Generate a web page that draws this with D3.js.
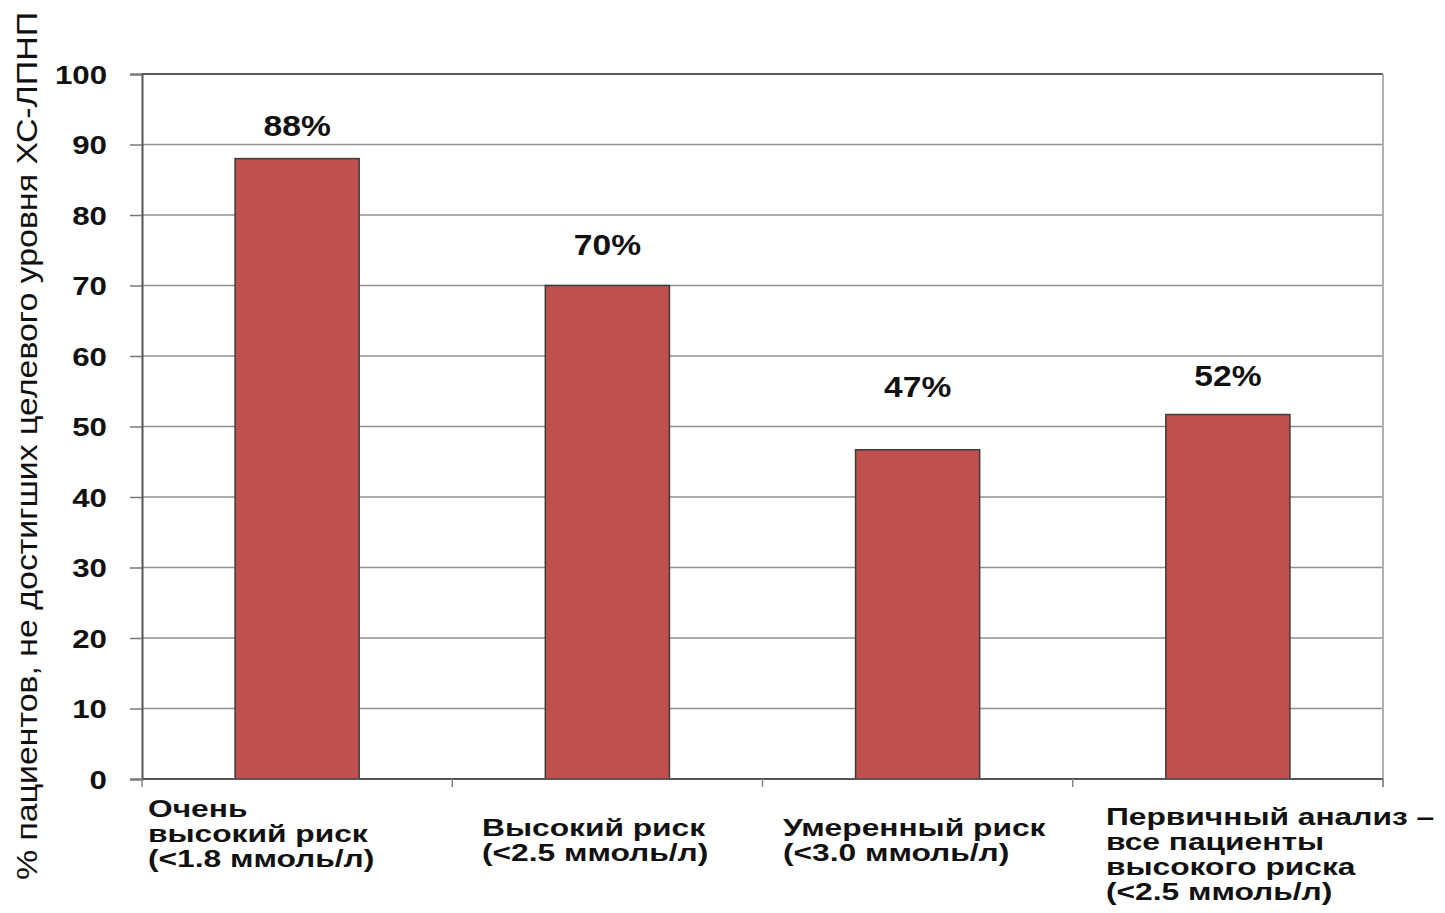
<!DOCTYPE html>
<html><head><meta charset="utf-8">
<script src="https://cdn.jsdelivr.net/npm/d3@7"></script>
<style>body{margin:0;background:#fff}svg{display:block}</style>
</head><body>
<script>
const categories = [
  ["Очень", "высокий риск", "(<1.8 ммоль/л)"],
  ["Высокий риск", "(<2.5 ммоль/л)"],
  ["Умеренный риск", "(<3.0 ммоль/л)"],
  ["Первичный анализ –", "все пациенты", "высокого риска", "(<2.5 ммоль/л)"]
];
const values = [88, 70, 46.7, 51.7];
const valueLabels = ["88%", "70%", "47%", "52%"];
const yTicks = [0, 10, 20, 30, 40, 50, 60, 70, 80, 90, 100];
const yTitle = "% пациентов, не достигших целевого уровня ХС-ЛПНП";

// layout (not data)
const W = 1445, H = 913;
const plot = {left: 142, right: 1383, top: 74, bottom: 779};
const catLabelLeft = [148, 482, 783, 1106];
const catLabelFirstBaseline = [817, 836, 836, 825];
const valueLabelGap = [23, 31, 53, 29];
const lineH = 25;

const svg = d3.select("body").append("svg").attr("width", W).attr("height", H);
const font = "'Liberation Sans', Arial, sans-serif";

const x = d3.scaleBand().domain(d3.range(categories.length)).range([plot.left, plot.right]).padding(0);
const y = d3.scaleLinear().domain([0, 100]).range([plot.bottom, plot.top]);

// gridlines
svg.append("g").selectAll("line").data(yTicks.filter(t => t > 0)).join("line")
  .attr("x1", plot.left).attr("x2", plot.right)
  .attr("y1", d => y(d)).attr("y2", d => y(d))
  .attr("stroke", d => d === 100 ? "#5a5a5a" : "#909090")
  .attr("stroke-width", d => d === 100 ? 2 : 1.4);
// right border
svg.append("line").attr("x1", plot.right).attr("x2", plot.right).attr("y1", plot.top).attr("y2", plot.bottom + 8)
  .attr("stroke", "#b0b0b0").attr("stroke-width", 2);

// bars
const bw = x.bandwidth() * 0.4;
svg.append("g").selectAll("rect").data(values).join("rect")
  .attr("x", (d, i) => x(i) + (x.bandwidth() - bw) / 2)
  .attr("width", bw)
  .attr("y", d => y(d))
  .attr("height", d => y(0) - y(d))
  .attr("fill", "#C0504D").attr("stroke", "#3c3c3c").attr("stroke-width", 1.5);

// y axis
const yAxis = d3.axisLeft(y).tickValues(yTicks).tickSize(12).tickPadding(0).tickFormat(d3.format("d"));
const gy = svg.append("g").attr("transform", `translate(${plot.left},0)`).call(yAxis);
gy.select(".domain").attr("stroke", "#555").attr("stroke-width", 2);
gy.selectAll(".tick line").attr("stroke", "#777").attr("stroke-width", 1.5);
gy.selectAll(".tick text").remove();
gy.selectAll(".tick").append("g").attr("transform", "translate(-35,0) scale(1.25,1)")
  .append("text").attr("text-anchor", "end").attr("dy", "0.36em")
  .attr("font-family", font).attr("font-weight", "bold").attr("font-size", 25).attr("fill", "#111")
  .text(d => d);

// x axis
svg.append("line").attr("x1", plot.left).attr("x2", plot.right).attr("y1", plot.bottom).attr("y2", plot.bottom)
  .attr("stroke", "#555").attr("stroke-width", 2);
const bounds = d3.range(categories.length + 1).map(i => plot.left + i * x.step());
svg.append("g").selectAll("line").data(bounds).join("line")
  .attr("x1", d => d).attr("x2", d => d).attr("y1", plot.bottom).attr("y2", plot.bottom + 8)
  .attr("stroke", "#888").attr("stroke-width", 1.5);

// value labels
svg.append("g").selectAll("g").data(values).join("g")
  .attr("transform", (d, i) => `translate(${x(i) + x.bandwidth() / 2},${y(d) - valueLabelGap[i]}) scale(1.12,1)`)
  .append("text").attr("text-anchor", "middle")
  .attr("font-family", font).attr("font-weight", "bold").attr("font-size", 30).attr("fill", "#111")
  .text((d, i) => valueLabels[i]);

// category labels
const cg = svg.append("g").selectAll("g").data(categories).join("g")
  .attr("transform", (d, i) => `translate(${catLabelLeft[i]},${catLabelFirstBaseline[i]}) scale(1.38,1)`);
cg.append("text").attr("font-family", font).attr("font-weight", "bold").attr("font-size", 23).attr("fill", "#111")
  .selectAll("tspan").data(d => d).join("tspan")
  .attr("x", 0).attr("y", (d, j) => j * lineH).text(d => d);

// y title
svg.append("text")
  .attr("transform", "translate(37,446) rotate(-90)")
  .attr("text-anchor", "middle")
  .attr("font-family", font).attr("font-size", 30).attr("fill", "#111")
  .attr("textLength", 868).attr("lengthAdjust", "spacingAndGlyphs")
  .text(yTitle);
</script>
</body></html>
